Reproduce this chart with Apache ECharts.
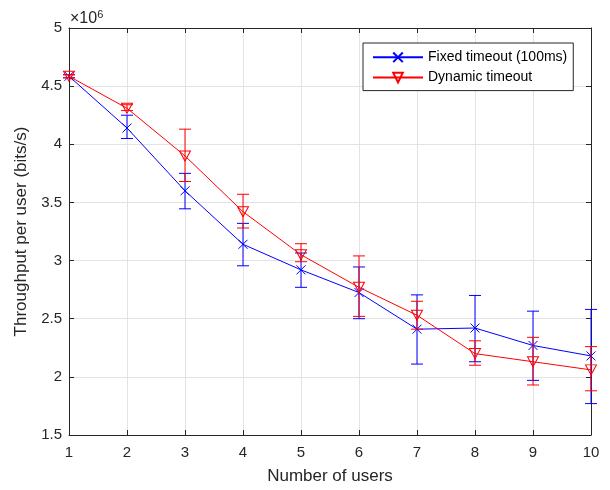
<!DOCTYPE html>
<html>
<head>
<meta charset="utf-8">
<script src="https://cdn.jsdelivr.net/npm/echarts@6/dist/echarts.min.js"></script>
<style>
html,body{margin:0;padding:0;background:#fff;overflow:hidden;width:610px;height:490px;}
#chart{width:610px;height:490px;}
</style>
</head>
<body>
<div id="chart"></div>
<script>
// Values in units of 10^6 bits/s
const users = [1, 2, 3, 4, 5, 6, 7, 8, 9, 10];
const fixedMean = [4.585, 4.14, 3.60, 3.14, 2.92, 2.725, 2.41, 2.42, 2.27, 2.18];
const fixedLow  = [4.572, 4.05, 3.445, 2.955, 2.77, 2.50, 2.11, 2.13, 1.97, 1.77];
const fixedHigh = [4.598, 4.25, 3.75, 3.32, 3.065, 2.945, 2.705, 2.70, 2.565, 2.58];
const dynMean = [4.585, 4.31, 3.90, 3.42, 3.05, 2.77, 2.53, 2.20, 2.13, 2.06];
const dynLow  = [4.572, 4.29, 3.68, 3.28, 2.99, 2.52, 2.41, 2.10, 1.93, 1.88];
const dynHigh = [4.598, 4.34, 4.13, 3.57, 3.145, 3.04, 2.65, 2.31, 2.34, 2.26];
const seriesNames = ['Fixed timeout (100ms)', 'Dynamic timeout'];
const yTicks = [1.5, 2, 2.5, 3, 3.5, 4, 4.5, 5];

const FONT = '"Liberation Sans", Arial, Helvetica, sans-serif';
const AX = '#262626';
const GRIDC = '#e3e3e3';

function errData(low, high) {
  return users.map((u, i) => [u, low[i], high[i]]);
}
function errRender(color) {
  return function (params, api) {
    const x = api.value(0);
    const lo = api.coord([x, api.value(1)]);
    const hi = api.coord([x, api.value(2)]);
    const hw = 6;
    const st = { stroke: color, lineWidth: 1 };
    return {
      type: 'group',
      children: [
        { type: 'line', shape: { x1: lo[0], y1: lo[1], x2: hi[0], y2: hi[1] }, style: st },
        { type: 'line', shape: { x1: lo[0] - hw, y1: lo[1], x2: lo[0] + hw, y2: lo[1] }, style: st },
        { type: 'line', shape: { x1: hi[0] - hw, y1: hi[1], x2: hi[0] + hw, y2: hi[1] }, style: st }
      ]
    };
  };
}

const chart = echarts.init(document.getElementById('chart'), null, { renderer: 'canvas', width: 610, height: 490 });
const xBase = {
  type: 'value', min: 1, max: 10, interval: 1,
  axisLine: { show: true, lineStyle: { color: AX, width: 1 } },
  axisTick: { show: true, inside: true, length: 5, lineStyle: { color: AX } },
  splitLine: { show: false }
};
const yBase = {
  type: 'value', min: 1.5, max: 5, interval: 0.5,
  axisLine: { show: true, lineStyle: { color: AX, width: 1 } },
  axisTick: { show: true, inside: true, length: 5, lineStyle: { color: AX } },
  splitLine: { show: false }
};

chart.setOption({
  animation: false,
  backgroundColor: '#fff',
  textStyle: { fontFamily: FONT },
  grid: { left: 69, right: 19, top: 28, bottom: 51, containLabel: false },
  xAxis: [
    Object.assign({}, xBase, {
      position: 'bottom',
      name: 'Number of users', nameLocation: 'middle', nameGap: 33,
      nameTextStyle: { fontSize: 17, color: AX, fontFamily: FONT },
      axisLabel: { show: true, fontSize: 15, color: AX, margin: 10, fontFamily: FONT },
      splitLine: { show: true, lineStyle: { color: GRIDC, width: 1 } }
    }),
    Object.assign({}, xBase, { position: 'top', axisLabel: { show: false } })
  ],
  yAxis: [
    Object.assign({}, yBase, {
      position: 'left',
      name: 'Throughput per user (bits/s)', nameLocation: 'middle', nameGap: 35,
      nameTextStyle: { fontSize: 17, color: AX, fontFamily: FONT },
      axisLabel: {
        show: true, fontSize: 15, color: AX, margin: 7, fontFamily: FONT,
        formatter: v => String(yTicks.find(t => Math.abs(t - v) < 1e-9) ?? v)
      },
      splitLine: { show: true, lineStyle: { color: GRIDC, width: 1 } }
    }),
    Object.assign({}, yBase, { position: 'right', axisLabel: { show: false } })
  ],
  legend: {
    orient: 'vertical', left: 363, top: 43,
    backgroundColor: '#fff', borderColor: AX, borderWidth: 1, borderRadius: 0,
    padding: [7, 6, 6, 9], itemGap: 6, itemWidth: 50, itemHeight: 12,
    textStyle: { fontSize: 14, color: '#000', fontFamily: FONT },
    data: seriesNames
  },
  graphic: [
    {
      type: 'text', left: 70, top: 9, silent: true,
      style: {
        text: '{a|×10}{b|6}',
        rich: {
          a: { fontSize: 16, fill: AX, fontFamily: FONT, verticalAlign: 'bottom', lineHeight: 18 },
          b: { fontSize: 11, fill: AX, fontFamily: FONT, verticalAlign: 'top', lineHeight: 12, padding: [0, 0, 7, 0] }
        }
      }
    }
  ],
  series: [
    {
      type: 'custom', name: 'fixedErr', renderItem: errRender('#0000ff'),
      data: errData(fixedLow, fixedHigh), encode: { x: 0, y: [1, 2] }, z: 2, silent: true
    },
    {
      type: 'line', name: seriesNames[0],
      data: users.map((u, i) => [u, fixedMean[i]]),
      lineStyle: { color: '#0000ff', width: 1 },
      symbol: 'path://M0,0L10,10M10,0L0,10', symbolSize: 9, showAllSymbol: true,
      itemStyle: { color: 'none', borderColor: '#0000ff', borderWidth: 1 },
      z: 3
    },
    {
      type: 'custom', name: 'dynErr', renderItem: errRender('#ff0000'),
      data: errData(dynLow, dynHigh), encode: { x: 0, y: [1, 2] }, z: 4, silent: true
    },
    {
      type: 'line', name: seriesNames[1],
      data: users.map((u, i) => [u, dynMean[i]]),
      lineStyle: { color: '#ff0000', width: 1 },
      symbol: 'triangle', symbolRotate: 180, symbolSize: [11, 10], showAllSymbol: true,
      itemStyle: { color: 'rgba(255,255,255,0)', borderColor: '#ff0000', borderWidth: 1 },
      z: 5
    }
  ]
});
</script>
</body>
</html>
